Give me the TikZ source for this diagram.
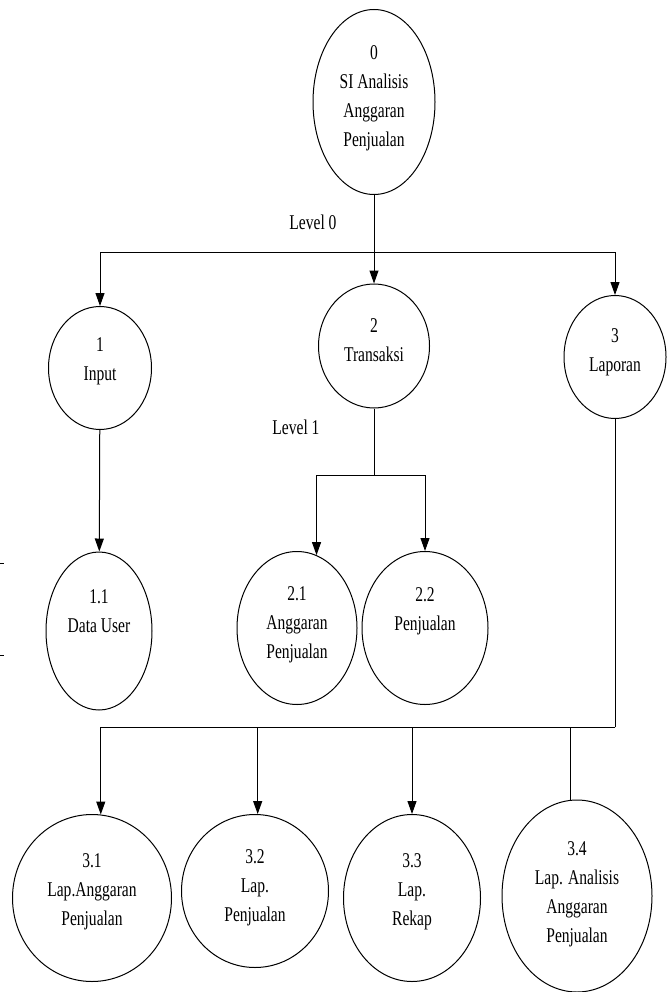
\documentclass[tikz,border=0pt]{standalone}
\usepackage{fontspec}
\setmainfont{Liberation Serif}[FakeStretch=0.74]
\usetikzlibrary{shapes.geometric,arrows.meta}

\begin{document}
\begin{tikzpicture}[x=1pt, y=-1pt, line width=1pt,
  proses/.style={draw, ellipse, inner sep=0pt},
  teks/.style={align=center, font=\fontsize{21}{29}\selectfont},
  alir/.style={-{Triangle[length=13pt,width=9pt]}}]
\useasboundingbox (0,0) rectangle (667,992);
% level 0
\node[proses, minimum width=122, minimum height=185, label={[teks,yshift=4pt]center:0\\SI Analisis\\Anggaran\\Penjualan}] (p0) at (374,102) {};
\node[teks] (lv0) at (313,222) {Level 0};
\coordinate (j0) at (374,252);
% level 1
\node[proses, minimum width=103, minimum height=123, label={[teks,yshift=7pt]center:1\\Input}] (p1) at (100,368) {};
\node[proses, minimum width=111, minimum height=124, label={[teks,yshift=6pt]center:2\\Transaksi}] (p2) at (374,346) {};
\node[proses, minimum width=102, minimum height=123, label={[teks,yshift=5pt]center:3\\Laporan}] (p3) at (615,357) {};
\node[teks] (lv1) at (296,427) {Level 1};
\draw[alir] (p0) -- (p2);
\draw[alir] (j0) -| (p1.north);
\draw[alir] (j0) -| (p3.north);
% level 2
\node[proses, minimum width=106, minimum height=158, label={[teks,yshift=20pt]center:1.1\\Data User}] (p11) at (99,631) {};
\node[proses, minimum width=120, minimum height=153, label={[teks,yshift=3pt]center:2.1\\Anggaran\\Penjualan}] (p21) at (297,628) {};
\node[proses, minimum width=126, minimum height=153, label={[teks,yshift=17pt]center:2.2\\Penjualan}] (p22) at (425,628) {};
\coordinate (j2) at (374,475);
\draw[alir] (p1) -- (p11);
\draw (p2.south) -- (j2);
\draw[alir] (j2) -| (p21.75);
\draw[alir] (j2) -| (p22.north);
% laporan
\node[proses, minimum width=159, minimum height=167, label={[teks,yshift=6pt]center:3.1\\Lap.Anggaran\\Penjualan}] (p31) at (92,898) {};
\node[proses, minimum width=147, minimum height=153, label={[teks,yshift=3pt]center:3.2\\Lap.\\Penjualan}] (p32) at (255,891) {};
\node[proses, minimum width=137, minimum height=167, label={[teks,yshift=6pt]center:3.3\\Lap.\\Rekap}] (p33) at (412,898) {};
\node[proses, minimum width=150, minimum height=192, label={[teks,yshift=2pt]center:3.4\\Lap. Analisis\\Anggaran\\Penjualan}] (p34) at (577,896) {};
\coordinate (j3) at (615,727);
\draw (p3.south) -- (j3);
\draw[alir] (j3) -| (p31.84);
\draw[alir] (j3) -| (p32.88);
\draw[alir] (j3) -| (p33.north);
\draw (j3) -| (p34.94);
% tanda tepi kiri
\draw (0,563) -- (4,563);
\draw (0,655) -- (4,655);
\end{tikzpicture}
\end{document}
